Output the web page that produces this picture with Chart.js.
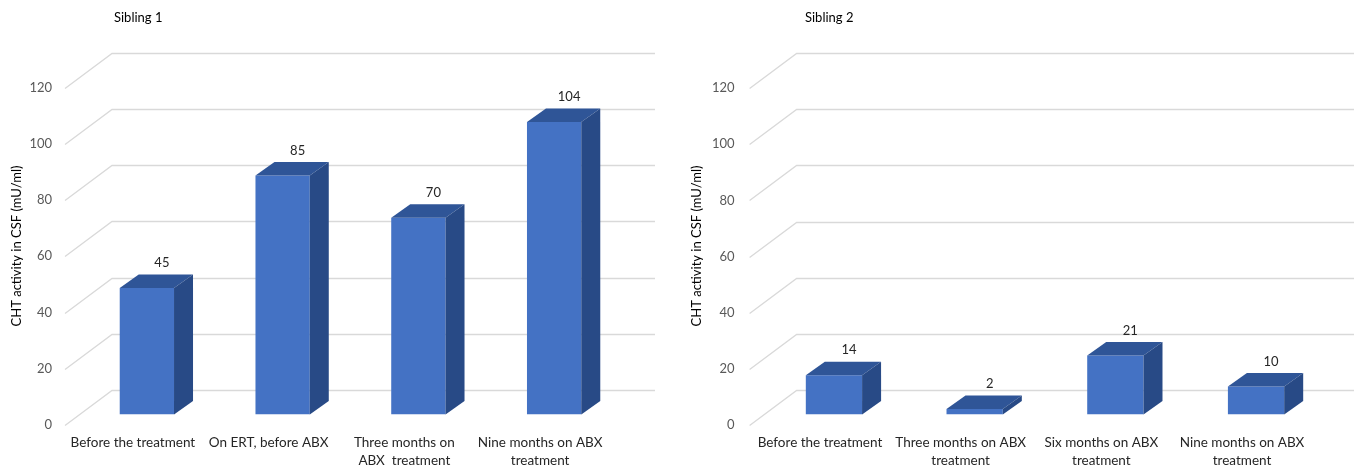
<!DOCTYPE html>
<html>
<head>
<meta charset="utf-8">
<script src="https://cdn.jsdelivr.net/npm/chart.js@4.4.1/dist/chart.umd.min.js"></script>
<style>
  body { margin: 0; background: #fff; }
  #wrap { position: relative; width: 1354px; height: 467px; overflow: hidden; }
  canvas { position: absolute; top: 0; }
</style>
</head>
<body>
<div id="wrap">
  <canvas id="sib1" width="677" height="467" style="left:0"></canvas>
  <canvas id="sib2" width="677" height="467" style="left:677px"></canvas>
</div>
<script>
// data
var labels1 = ['Before the treatment', 'On ERT, before ABX', ['Three months on', 'ABX  treatment'], ['Nine months on ABX', 'treatment']];
var values1 = [45, 85, 70, 104];
var labels2 = ['Before the treatment', ['Three months on ABX', 'treatment'], ['Six months on ABX', 'treatment'], ['Nine months on ABX', 'treatment']];
var values2 = [14, 2, 21, 10];
var yMin = 0, yMax = 120, yStep = 20;

var FONT = 'Lato';

// fake 3d: slanted gridlines, top and side faces of bars, value labels
var depth3d = {
    id: 'depth3d',
    beforeDatasetsDraw: function (chart, args, o) {
        var ctx = chart.ctx, a = chart.chartArea, y = chart.scales.y;
        ctx.save();
        ctx.strokeStyle = '#D9D9D9';
        ctx.lineWidth = 1.3;
        ctx.beginPath();
        y.ticks.forEach(function (t) {
            var py = Math.round(y.getPixelForValue(t.value)) + 0.5;
            ctx.moveTo(a.left, py);
            ctx.lineTo(a.left + o.floor[0], py - o.floor[1]);
            ctx.lineTo(a.right + o.floor[0], py - o.floor[1]);
        });
        ctx.stroke();

        // panel and axis titles
        ctx.fillStyle = '#000';
        ctx.font = '13px ' + FONT;
        ctx.textBaseline = 'middle';
        ctx.textAlign = 'left';
        ctx.fillText(o.title, o.titleX, 18);
        ctx.save();
        ctx.translate(o.axisX, 246);
        ctx.rotate(-Math.PI / 2);
        ctx.textAlign = 'center';
        ctx.fillText('CHT activity in CSF (mU/ml)', 0, 0);
        ctx.restore();
        ctx.restore();

        ctx.save();
        ctx.translate(o.off[0], -o.off[1]);
    },
    afterDatasetsDraw: function (chart, args, o) {
        var ctx = chart.ctx;
        var meta = chart.getDatasetMeta(0);
        var dx = o.depth[0], dy = o.depth[1];
        meta.data.forEach(function (bar) {
            var p = bar.getProps(['x', 'y', 'base', 'width'], true);
            var l = p.x - p.width / 2, r = p.x + p.width / 2;
            ctx.fillStyle = '#2F5597';
            ctx.beginPath();
            ctx.moveTo(l, p.y);
            ctx.lineTo(r, p.y);
            ctx.lineTo(r + dx, p.y - dy);
            ctx.lineTo(l + dx, p.y - dy);
            ctx.closePath();
            ctx.fill();
            ctx.fillStyle = '#284A86';
            ctx.beginPath();
            ctx.moveTo(r, p.y);
            ctx.lineTo(r + dx, p.y - dy);
            ctx.lineTo(r + dx, p.base - dy);
            ctx.lineTo(r, p.base);
            ctx.closePath();
            ctx.fill();
        });
        ctx.restore();

        var data = chart.data.datasets[0].data;
        ctx.save();
        ctx.fillStyle = '#262626';
        ctx.font = '13px ' + FONT;
        ctx.textAlign = 'center';
        ctx.textBaseline = 'middle';
        meta.data.forEach(function (bar, i) {
            ctx.fillText(data[i], bar.x + o.off[0] + 15, bar.y - o.off[1] - 25);
        });
        ctx.restore();
    }
};

function makeChart(id, labels, values, lay) {
    return new Chart(document.getElementById(id), {
        type: 'bar',
        data: {
            labels: labels,
            datasets: [{
                data: values,
                backgroundColor: '#4472C4',
                borderWidth: 0,
                categoryPercentage: 1,
                barPercentage: 0.4
            }]
        },
        options: {
            responsive: false,
            animation: false,
            layout: { padding: { left: 0, right: lay.right, top: lay.top, bottom: 0 } },
            plugins: {
                legend: { display: false },
                tooltip: { enabled: false },
                depth3d: {
                    floor: [47, 35],
                    off: [14, 10.5],
                    depth: [19, 13.5],
                    title: lay.title,
                    titleX: lay.titleX,
                    axisX: lay.axisX
                }
            },
            scales: {
                x: {
                    grid: { display: false, drawTicks: false },
                    border: { display: false },
                    ticks: {
                        color: '#262626',
                        padding: 9,
                        maxRotation: 0,
                        autoSkip: false,
                        font: { family: FONT, size: 13.5, lineHeight: 1.3 }
                    },
                    afterFit: function (s) { s.height = 42; }
                },
                y: {
                    min: yMin,
                    max: yMax,
                    grid: { display: false, drawTicks: false },
                    border: { display: false },
                    ticks: {
                        stepSize: yStep,
                        color: '#595959',
                        padding: lay.tickPad,
                        font: { family: FONT, size: 13 }
                    },
                    afterFit: function (s) { s.width = lay.left; }
                }
            }
        },
        plugins: [depth3d]
    });
}

makeChart('sib1', labels1, values1, { left: 65, right: 69, top: 87.5, tickPad: 13, title: 'Sibling 1', titleX: 114, axisX: 17 });
makeChart('sib2', labels2, values2, { left: 72.6, right: 41.6, top: 88, tickPad: 15, title: 'Sibling 2', titleX: 128, axisX: 20 });
</script>
</body>
</html>
